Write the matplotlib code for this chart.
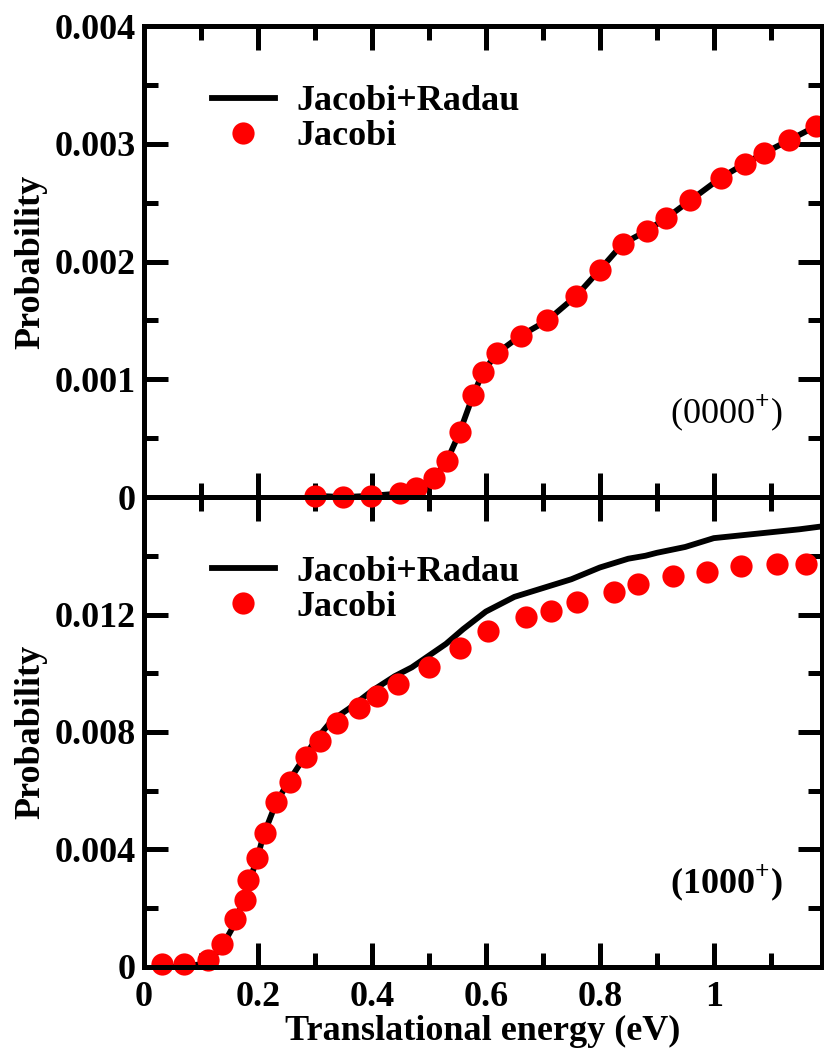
import matplotlib
matplotlib.use('Agg')
import matplotlib.pyplot as plt
from matplotlib.ticker import MultipleLocator, FixedLocator, FixedFormatter

# data
# (0000+) state
e_top_jr = [0.300, 0.350, 0.399, 0.449, 0.478, 0.509, 0.532, 0.554, 0.578, 0.595, 0.619, 0.661,
            0.708, 0.759, 0.800, 0.840, 0.882, 0.917, 0.959, 1.012, 1.054, 1.088, 1.132, 1.180, 1.19]
p_top_jr = [0.00001, 0.0, 0.00001, 0.00003, 0.00008, 0.00016, 0.00031, 0.00055, 0.00087, 0.00106,
            0.00122, 0.00137, 0.00150, 0.00171, 0.00193, 0.00215, 0.00226, 0.00237, 0.00252,
            0.00271, 0.00283, 0.00292, 0.00303, 0.00315, 0.00317]
e_top_j = [0.300, 0.350, 0.399, 0.449, 0.478, 0.509, 0.532, 0.554, 0.578, 0.595, 0.619, 0.661,
           0.708, 0.759, 0.800, 0.840, 0.882, 0.917, 0.959, 1.012, 1.054, 1.088, 1.132, 1.180]
p_top_j = [0.00001, 0.0, 0.00001, 0.00003, 0.00008, 0.00016, 0.00031, 0.00055, 0.00087, 0.00106,
           0.00122, 0.00137, 0.00150, 0.00171, 0.00193, 0.00215, 0.00226, 0.00237, 0.00252,
           0.00271, 0.00283, 0.00292, 0.00303, 0.00315]

# (1000+) state
e_bot_jr = [0.03, 0.07, 0.10, 0.12, 0.14, 0.16, 0.18, 0.20, 0.21, 0.23, 0.25, 0.28, 0.30, 0.33,
            0.36, 0.40, 0.44, 0.47, 0.50, 0.53, 0.56, 0.60, 0.65, 0.70, 0.75, 0.80, 0.85, 0.88,
            0.90, 0.95, 1.00, 1.05, 1.10, 1.15, 1.19]
p_bot_jr = [0.0, 0.0, 0.0001, 0.0003, 0.0008, 0.0015, 0.0026, 0.0038, 0.0045, 0.0055, 0.0062,
            0.0071, 0.0077, 0.0084, 0.0088, 0.0094, 0.0099, 0.0102, 0.0106, 0.0110, 0.0115,
            0.0121, 0.0126, 0.0129, 0.0132, 0.0136, 0.0139, 0.0140, 0.0141, 0.0143, 0.0146,
            0.0147, 0.0148, 0.0149, 0.0150]
e_bot_j = [0.032, 0.071, 0.112, 0.137, 0.159, 0.177, 0.182, 0.198, 0.212, 0.232, 0.256, 0.285,
           0.308, 0.339, 0.377, 0.409, 0.445, 0.500, 0.554, 0.604, 0.671, 0.715, 0.760, 0.825,
           0.867, 0.928, 0.988, 1.047, 1.111, 1.162]
p_bot_j = [0.00011, 0.00011, 0.00023, 0.00079, 0.00162, 0.00229, 0.00297, 0.00371, 0.00455,
           0.0056, 0.00631, 0.00716, 0.00769, 0.00831, 0.00882, 0.00921, 0.00965, 0.01022,
           0.01085, 0.01144, 0.0119, 0.01211, 0.01243, 0.01278, 0.01304, 0.0133, 0.01346,
           0.01366, 0.01372, 0.01371]

x_ticks = [0, 0.2, 0.4, 0.6, 0.8, 1.0]
x_tick_labels = ['0', '0.2', '0.4', '0.6', '0.8', '1']
top_y_ticks = [0, 0.001, 0.002, 0.003, 0.004]
top_y_labels = ['0', '0.001', '0.002', '0.003', '0.004']
bot_y_ticks = [0, 0.004, 0.008, 0.012, 0.016]
bot_y_labels = ['0', '0.004', '0.008', '0.012', '']

plt.rcParams['font.family'] = 'Liberation Serif'
plt.rcParams['font.weight'] = 'bold'
plt.rcParams['mathtext.fontset'] = 'custom'
plt.rcParams['mathtext.rm'] = 'Liberation Serif'
plt.rcParams['mathtext.bf'] = 'Liberation Serif:bold'

fig = plt.figure(figsize=(8.24, 10.49), dpi=100)
ax1 = fig.add_axes([0.1748, 0.5262, 0.8228, 0.4490])
ax2 = fig.add_axes([0.1748, 0.0782, 0.8228, 0.4480])
ax1.set_zorder(3)

fs = 26

def style(ax, yt, yl, yminor):
    for s in ax.spines.values():
        s.set_linewidth(3.6)
        s.set_zorder(5)
    ax.set_xlim(0, 1.19)
    ax.xaxis.set_major_locator(FixedLocator(x_ticks))
    ax.xaxis.set_minor_locator(MultipleLocator(0.1))
    ax.yaxis.set_major_locator(FixedLocator(yt))
    ax.yaxis.set_major_formatter(FixedFormatter(yl))
    ax.yaxis.set_minor_locator(MultipleLocator(yminor))
    ax.tick_params(which='both', direction='in', top=True, right=True, width=3.6,
                   labelsize=fs)
    ax.tick_params(axis='y', pad=6)
    ax.tick_params(axis='x', pad=10)
    ax.tick_params(which='major', length=17)
    ax.tick_params(which='minor', length=10)
    ax.set_ylabel('Probability', fontsize=fs, fontweight='bold')
    ax.yaxis.set_label_coords(-0.143, 0.5)

# top panel
ax1.plot(e_top_jr, p_top_jr, color='black', lw=4.2, label='Jacobi+Radau', zorder=2)
ax1.plot(e_top_j, p_top_j, 'o', color='red', ms=16, mec='none', label='Jacobi',
         clip_on=False, zorder=3)
style(ax1, top_y_ticks, top_y_labels, 0.0005)
ax1.set_ylim(0, 0.004)
ax1.tick_params(axis='x', labelbottom=False)
ax1.legend(loc='upper left', bbox_to_anchor=(0.100, 0.875), frameon=False, fontsize=fs,
           borderpad=0, borderaxespad=0, handlelength=1.75, handletextpad=0.6,
           labelspacing=0.05, numpoints=1)
ax1.text(0.776, 0.178, r'(0000$^{+}$)', transform=ax1.transAxes, fontsize=fs,
         fontweight='normal', va='center', ha='left')

# bottom panel
ax2.plot(e_bot_jr, p_bot_jr, color='black', lw=4.2, label='Jacobi+Radau', zorder=2)
ax2.plot(e_bot_j, p_bot_j, 'o', color='red', ms=16, mec='none', label='Jacobi',
         clip_on=False, zorder=3)
style(ax2, bot_y_ticks, bot_y_labels, 0.002)
ax2.set_ylim(0, 0.016)
ax2.set_xticklabels(x_tick_labels)
ax2.set_xlabel('Translational energy (eV)', fontsize=fs, fontweight='bold', labelpad=1)
ax2.legend(loc='upper left', bbox_to_anchor=(0.100, 0.875), frameon=False, fontsize=fs,
           borderpad=0, borderaxespad=0, handlelength=1.75, handletextpad=0.6,
           labelspacing=0.05, numpoints=1)
ax2.text(0.776, 0.179, r'(1000$^{+}$)', transform=ax2.transAxes, fontsize=fs,
         fontweight='bold', va='center', ha='left')

fig.savefig('out.png', dpi=100)
